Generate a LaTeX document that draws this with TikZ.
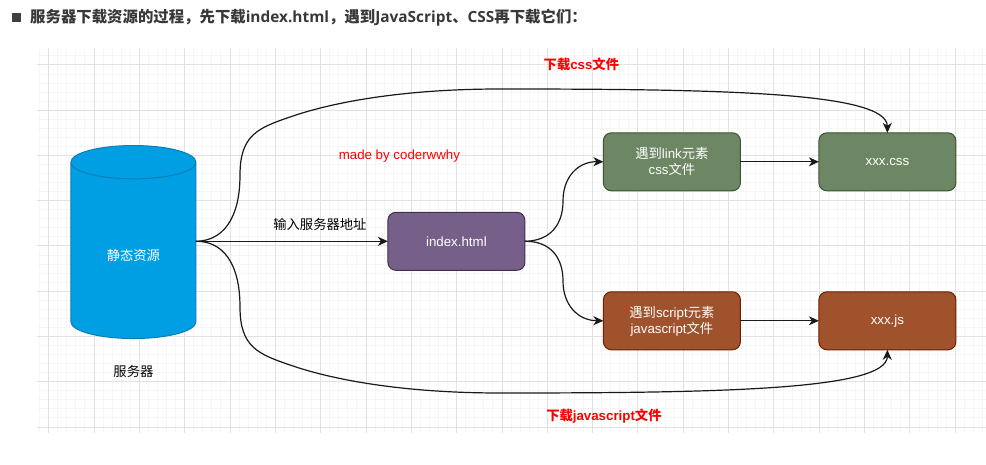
\documentclass[tikz,border=0pt]{standalone}
\usepackage{fontspec}
\usepackage[dvipsnames]{xcolor}
\usetikzlibrary{shapes.geometric,arrows.meta}
\setmainfont{Liberation Sans}
\newfontfamily\cjk{Noto Sans CJK SC}
\newfontfamily\headfont{Open Sans}
\definecolor{gridmajor}{HTML}{E2E2E2}
\definecolor{gridminor}{HTML}{F6F6F6}
\definecolor{dbfill}{HTML}{009FE3}
\definecolor{dbline}{HTML}{0B7FB5}
\definecolor{purplefill}{HTML}{76608A}
\definecolor{purpleline}{HTML}{432D57}
\definecolor{greenfill}{HTML}{6D8764}
\definecolor{greenline}{HTML}{3A5431}
\definecolor{brownfill}{HTML}{A0522D}
\definecolor{brownline}{HTML}{6D1F00}

\begin{document}
\begin{tikzpicture}[x=1pt,y=-1pt,>={Stealth[length=10pt,width=9pt,inset=3pt]},node distance=215.5pt,
    box node/.style={rectangle,rounded corners=8pt,draw,line width=1pt,text=white,align=center,minimum width=137pt,minimum height=58pt,outer sep=0pt,font=\fontsize{13.3}{16}\selectfont},
    server node/.style={cylinder,shape border rotate=90,aspect=5,draw=dbline,fill=dbfill,line width=1pt,text=white,minimum width=125pt,minimum height=193pt,outer sep=0pt,font=\fontsize{13.3}{16}\selectfont},
    black label/.style={text=black,font=\fontsize{13.3}{16}\selectfont},
    red label/.style={text=red,font=\fontsize{13.3}{16}\selectfont\bfseries},
    link line/.style={->,line width=1.2pt,black!90}]
    \useasboundingbox (0,0) rectangle (986,465);

    % grid
    \begin{scope}
        \clip (37,48) rectangle (986,433);
        \foreach \i in {-2,...,104} {
            \draw[gridminor,line width=1pt] ({48.7+9.066*\i},48) -- ({48.7+9.066*\i},433);
        }
        \foreach \i in {-2,...,42} {
            \draw[gridminor,line width=1pt] (37,{65+9.05*\i}) -- (986,{65+9.05*\i});
        }
        \foreach \i in {0,...,20} {
            \draw[gridmajor,line width=1pt] ({48.7+45.33*\i},48) -- ({48.7+45.33*\i},433);
        }
        \foreach \i in {0,...,8} {
            \draw[gridmajor,line width=1pt] (37,{65+45.25*\i}) -- (986,{65+45.25*\i});
        }
    \end{scope}

    % heading
    \node[fill=black!75,minimum size=9pt,inner sep=0pt] (mark) at (16.5,17.5) {};
    \node[anchor=west,inner sep=0pt,text=black!78,font=\fontsize{15.4}{18}\selectfont\bfseries] (heading) at (30,18)
        {{\cjk 服务器下载资源的过程\char"FF0C 先下载}{\headfont index.html}{\cjk \char"FF0C 遇到}{\headfont JavaScript}{\cjk 、}{\headfont CSS}{\cjk 再下载它们\char"FF1A}};

    % nodes
    \node[box node,fill=purplefill,draw=purpleline] (index) at (456.4,241.3) {index.html};
    \node[box node,fill=greenfill,draw=greenline] (link) [right of = index, yshift=79.5pt] {{\cjk 遇到}link{\cjk 元素}\\css{\cjk 文件}};
    \node[box node,fill=greenfill,draw=greenline] (css) [right of = link] {xxx.css};
    \node[box node,fill=brownfill,draw=brownline] (script) [right of = index, yshift=-79.5pt] {{\cjk 遇到}script{\cjk 元素}\\javascript{\cjk 文件}};
    \node[box node,fill=brownfill,draw=brownline] (js) [right of = script] {xxx.js};
    \node[server node] (server) [left of = index, xshift=-107.5pt, yshift=-12pt] {};
    \coordinate (exit) at (server.east |- index);
    \node[text=white,font=\fontsize{13.3}{16}\selectfont\cjk] (static) [below of = index, xshift=-323pt, node distance=14.5pt] {静态资源};

    % labels
    \node[black label] (host) [below of = index, xshift=-323pt, node distance=130pt] {\cjk 服务器};
    \node[black label] (url) [left of = index, xshift=79pt, yshift=17pt] {\cjk 输入服务器地址};
    \node[text=red,font=\fontsize{13.3}{16}\selectfont] (made) [left of = index, xshift=158.5pt, yshift=85pt] {made by coderwwhy};
    \node[red label] (getcss) [left of = css, xshift=-90.5pt, yshift=97pt] {{\cjk 下载}css{\cjk 文件}};
    \node[red label] (getjs) [left of = js, xshift=-68pt, yshift=-95pt] {{\cjk 下载}javascript{\cjk 文件}};

    % connectors
    \draw[link line] (exit) -- (index);
    \draw[link line] (exit) .. controls (222,241) and (240,220) .. (240,175)
        .. controls (240,135) and (258,128) .. (290,117)
        .. controls (330,103) and (400,89) .. (500,89)
        .. controls (720,89) and (887,92) .. (css.north);
    \draw[link line] (exit) .. controls (222,241) and (240,262) .. (240,307)
        .. controls (240,347) and (258,354) .. (290,365)
        .. controls (330,379) and (400,393) .. (500,393)
        .. controls (720,393) and (887,390) .. (js.south);
    \draw[link line] (index.east) .. controls (550,241) and (563,225) .. (563,201)
        .. controls (563,177) and (578,161.5) .. (link.west);
    \draw[link line] (index.east) .. controls (550,241) and (563,257) .. (563,281)
        .. controls (563,305) and (578,320.5) .. (script.west);
    \draw[link line] (link) -- (css);
    \draw[link line] (script) -- (js);
\end{tikzpicture}
\end{document}
